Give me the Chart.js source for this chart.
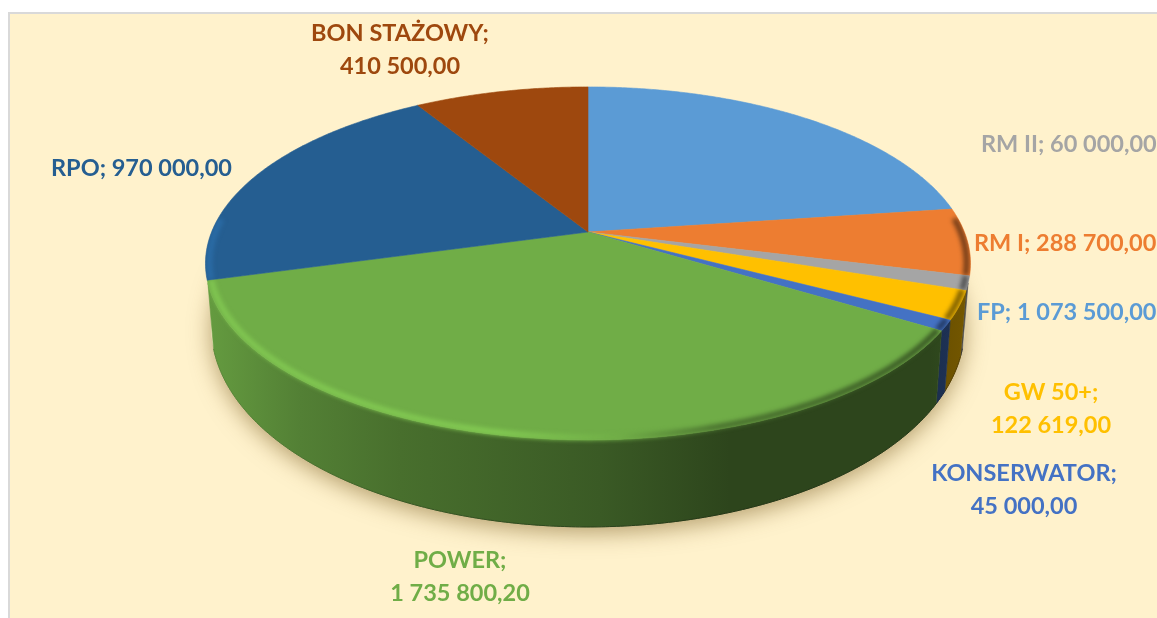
<!DOCTYPE html>
<html lang="pl">
<head>
<meta charset="utf-8">
<title>Wykres</title>
<script src="https://cdn.jsdelivr.net/npm/chart.js@4"></script>
<style>
    body { margin: 0; background: #FFFFFF; }
    canvas { display: block; }
</style>
</head>
<body>
<canvas id="pieChart" width="1157" height="618"></canvas>
<script>
const categories = ["FP", "RM I", "RM II", "GW 50+", "KONSERWATOR", "POWER", "RPO", "BON STAŻOWY"];
const values = [1073500, 288700, 60000, 122619, 45000, 1735800.2, 970000, 410500];
const valueLabels = ["1 073 500,00", "288 700,00", "60 000,00", "122 619,00", "45 000,00", "1 735 800,20", "970 000,00", "410 500,00"];
const colors = ["#5B9BD5", "#ED7D31", "#A5A5A5", "#FFC000", "#4472C4", "#70AD47", "#255E91", "#9E480E"];

// label placement, same order as categories: [x, first baseline, align, wrapped]
const labelPlaces = [
    [977, 320, "left", false],
    [974, 251, "left", false],
    [981, 152, "left", false],
    [1051, 400, "center", true],
    [1024, 481, "center", true],
    [460, 568, "center", true],
    [51, 176, "left", false],
    [400, 41, "center", true]
];

// perspective of the pie top, fitted to the picture
const CX = 588, CY = 232, RX = 376.4, RY = 170.9, TILT = 0.178;

// wall brightness going left to right
const wallShade = [[205, 0.9], [300, 0.74], [400, 0.64], [600, 0.52], [730, 0.4], [930, 0.4], [970, 0.46]];
const wallEdgeShade = [[205, 0.8], [400, 0.5], [600, 0.38], [730, 0.3], [970, 0.32]];
const rimShade = [[205, 1.14], [500, 1.16], [620, 1.0], [720, 0.66], [970, 0.5]];


function project(angle, radius) {
    const u = Math.cos(angle) * radius;
    const v = Math.sin(angle) * radius;
    const w = 1 - TILT * v;

    return { x: CX + RX * u / w, y: CY + RY * v / w, v: v };
}


function lowerPoint(point) {
    return {
        x: CX + (point.x - CX) * 0.985,
        y: point.y + 57 + 30 * point.v
    };
}


function rimPoints(start, end, radius) {
    const steps = Math.max(2, Math.ceil((end - start) * 120));
    const points = [];

    for (let i = 0; i <= steps; i++) {
        points.push(project(start + (end - start) * i / steps, radius));
    }

    return points;
}


function shadeColor(hex, factor) {
    const parts = [1, 3, 5].map(function (i) {
        const channel = parseInt(hex.substr(i, 2), 16) * factor;
        return Math.min(255, Math.round(channel));
    });

    return "rgb(" + parts.join(",") + ")";
}


function shadeGradient(ctx, hex, table) {
    const from = table[0][0];
    const to = table[table.length - 1][0];
    const gradient = ctx.createLinearGradient(from, 0, to, 0);

    table.forEach(function (stop) {
        gradient.addColorStop((stop[0] - from) / (to - from), shadeColor(hex, stop[1]));
    });

    return gradient;
}


function tracePoints(ctx, points) {
    points.forEach(function (point) {
        ctx.lineTo(point.x, point.y);
    });
}


function traceWall(ctx, rim) {
    ctx.moveTo(rim[0].x, rim[0].y);
    tracePoints(ctx, rim);
    tracePoints(ctx, rim.slice().reverse().map(lowerPoint));
    ctx.closePath();
}


function traceFace(ctx, rim) {
    ctx.moveTo(CX, CY);
    tracePoints(ctx, rim);
    ctx.closePath();
}


const pie3d = {
    id: "pie3d",

    beforeDraw: function (chart) {
        const ctx = chart.ctx;

        ctx.fillStyle = "#D9D9D9";
        ctx.fillRect(8, 12, 1149, 606);
        ctx.fillStyle = "#FFF2CC";
        ctx.fillRect(10, 14, 1147, 604);
    },

    // the arcs come from the library, only their shape is drawn here
    beforeDatasetsDraw: function (chart) {
        const ctx = chart.ctx;
        const arcs = chart.getDatasetMeta(0).data;

        const slices = arcs.map(function (arc) {
            const rim = rimPoints(arc.startAngle, arc.endAngle, 1);

            return {
                start: arc.startAngle,
                end: arc.endAngle,
                color: arc.options.backgroundColor,
                rim: rim,
                // only the front of the rim has a wall to show
                front: rim.filter(function (point) {
                    return point.v > 0.28;
                })
            };
        });

        // soft shadow under the base
        ctx.save();
        ctx.shadowColor = "rgba(110, 80, 20, 0.5)";
        ctx.shadowBlur = 22;
        ctx.shadowOffsetY = 6;
        ctx.fillStyle = "#FFF2CC";
        ctx.beginPath();
        tracePoints(ctx, rimPoints(0, Math.PI * 2, 1).map(lowerPoint));
        ctx.closePath();
        ctx.fill();
        ctx.restore();

        // side wall
        slices.forEach(function (slice) {
            if (slice.front.length < 2) {
                return;
            }

            ctx.beginPath();
            traceWall(ctx, slice.front);
            ctx.fillStyle = shadeGradient(ctx, slice.color, wallShade);
            ctx.fill();
            ctx.strokeStyle = ctx.fillStyle;
            ctx.lineWidth = 0.6;
            ctx.stroke();

            ctx.beginPath();
            tracePoints(ctx, slice.front.map(lowerPoint));
            ctx.strokeStyle = shadeGradient(ctx, slice.color, wallEdgeShade);
            ctx.lineWidth = 1;
            ctx.stroke();
        });

        // top faces
        slices.forEach(function (slice) {
            ctx.beginPath();
            traceFace(ctx, slice.rim);
            ctx.fillStyle = slice.color;
            ctx.fill();
            ctx.strokeStyle = slice.color;
            ctx.lineWidth = 0.6;
            ctx.stroke();
        });

        // rounded edge where the top meets the wall
        slices.forEach(function (slice) {
            const lit = rimPoints(slice.start, slice.end, 0.99).filter(function (point) {
                return point.v > -0.08;
            });

            if (lit.length < 2) {
                return;
            }

            ctx.save();
            ctx.beginPath();
            traceFace(ctx, slice.rim);
            if (slice.front.length > 1) {
                traceWall(ctx, slice.front);
            }
            ctx.clip();
            ctx.filter = "blur(2px)";
            ctx.beginPath();
            tracePoints(ctx, lit);
            ctx.strokeStyle = shadeGradient(ctx, slice.color, rimShade);
            ctx.lineWidth = 6;
            ctx.stroke();
            ctx.restore();
        });

        return false;
    },

    afterDraw: function (chart) {
        const ctx = chart.ctx;

        ctx.save();
        ctx.font = "bold 23.5px Lato";
        ctx.textBaseline = "alphabetic";

        categories.forEach(function (name, index) {
            const place = labelPlaces[index];

            ctx.fillStyle = colors[index];
            ctx.textAlign = place[2];

            if (place[3]) {
                ctx.fillText(name + ";", place[0], place[1]);
                ctx.fillText(valueLabels[index], place[0], place[1] + 33);
            } else {
                ctx.fillText(name + "; " + valueLabels[index], place[0], place[1]);
            }
        });

        ctx.restore();
    }
};


document.addEventListener("DOMContentLoaded", function () {
    const canvas = document.getElementById("pieChart");

    new Chart(canvas, {
        type: "pie",

        data: {
            labels: categories,

            datasets: [
                {
                    data: values,
                    backgroundColor: colors,
                    borderWidth: 0
                }
            ]
        },

        options: {
            responsive: false,
            animation: false,

            plugins: {
                legend: {
                    display: false
                },

                tooltip: {
                    enabled: false
                }
            }
        },

        plugins: [pie3d]
    });
});
</script>
</body>
</html>
